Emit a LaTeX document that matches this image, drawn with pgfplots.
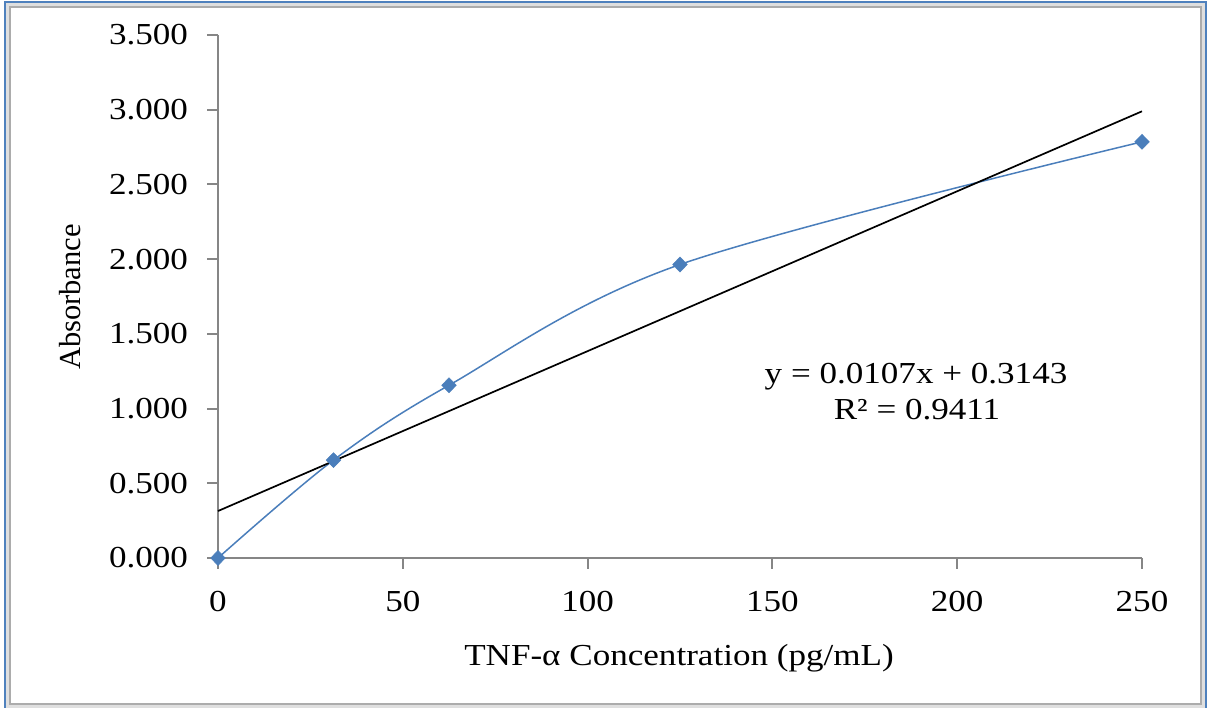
\documentclass[border=0pt]{standalone}
\usepackage{fontspec}
\setmainfont{Liberation Serif}
\usepackage{pgfplots}
\pgfplotsset{compat=1.18}
\definecolor{serblue}{RGB}{74,126,187}
\definecolor{axgrey}{RGB}{134,134,134}
\newcommand{\chartfont}{\fontsize{30.5}{34}\selectfont}
\begin{document}
\begin{tikzpicture}[x=1pt,y=1pt]
\useasboundingbox (0,0) rectangle (1207,708);
\fill[white] (0,0) rectangle (1207,708);
% frame
\draw[line width=3pt, color={rgb,255:red,79;green,129;blue,189}] (5,-5) rectangle (1206,705);
\draw[line width=3pt, color=gray!25] (7.5,1) rectangle (1203.5,703);
\draw[line width=2.2pt, color=gray!65] (10,4) rectangle (1201,701);
\begin{axis}[
  at={(218pt,150pt)}, anchor=south west,
  scale only axis, width=924pt, height=523pt,
  xmin=0, xmax=250, ymin=0, ymax=3.5,
  axis lines*=left,
  axis line style={-, draw=axgrey, line width=2pt},
  tick align=outside,
  major tick length=11pt,
  tick style={draw=axgrey, line width=2pt},
  xtick={0,50,100,150,200,250},
  ytick={0,0.5,1,1.5,2,2.5,3,3.5},
  /pgf/number format/assume math mode=true,
  yticklabel style={/pgf/number format/fixed, /pgf/number format/fixed zerofill, /pgf/number format/precision=3, font=\chartfont, xscale=1.15, anchor=east, xshift=-13pt},
  xticklabel style={font=\chartfont, xscale=1.15, anchor=north, yshift=-19pt},
  clip=false,
]
\addplot[color=serblue, line width=1.5pt, smooth, tension=0.55, mark=diamond*, mark size=7.5pt,
  mark options={xscale=1.3, fill=serblue, draw=serblue, line width=0.5pt}]
  coordinates {(0,0) (31.25,0.655) (62.5,1.156) (125,1.964) (250,2.785)};
\addplot[color=black, line width=1.7pt, no marks]
  coordinates {(0,0.3143) (250,2.9893)};
\end{axis}
\node[rotate=90, font=\chartfont] at (70,411) {Absorbance};
\node[font=\chartfont, xscale=1.15] at (679,50) {TNF-α Concentration (pg/mL)};
\node[font=\chartfont, xscale=1.15] at (916,331) {y = 0.0107x + 0.3143};
\node[font=\chartfont, xscale=1.15] at (917,298) {R² = 0.9411};
\end{tikzpicture}
\end{document}
